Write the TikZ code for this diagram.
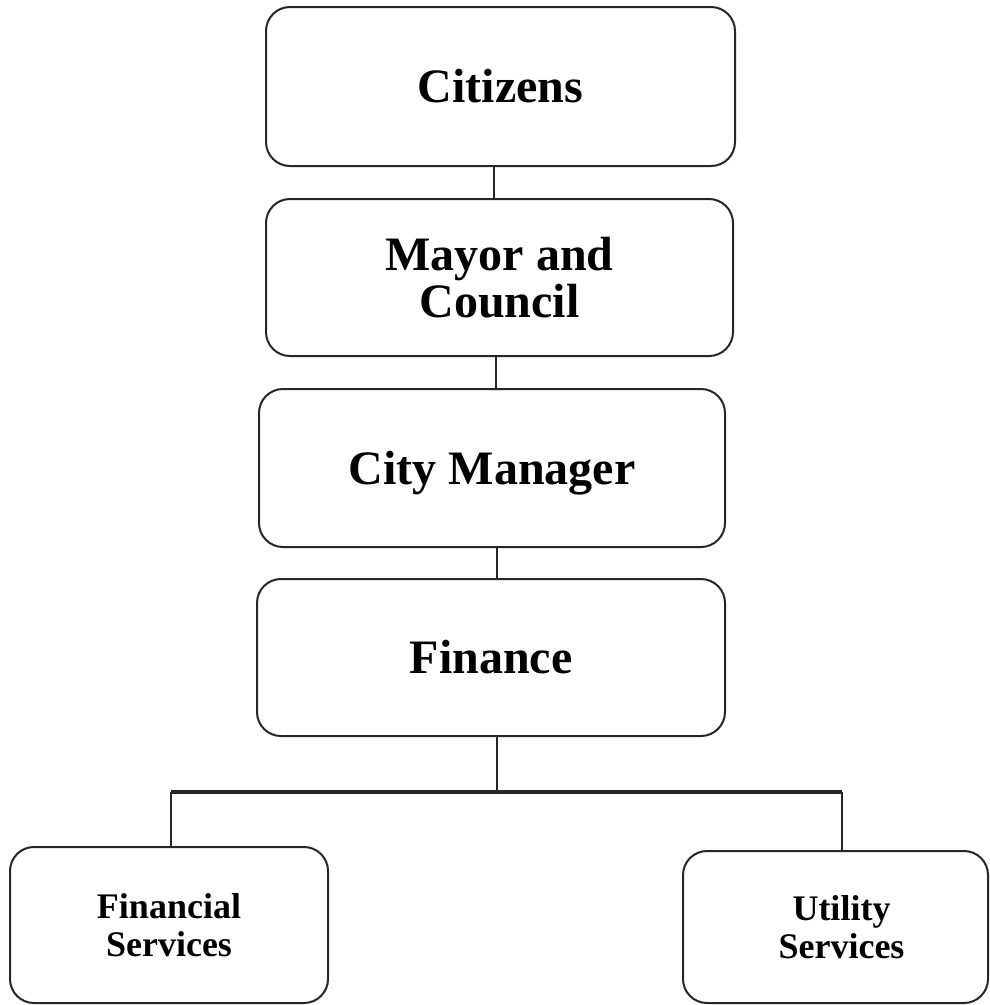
\documentclass[tikz,border=0pt]{standalone}
\usepackage{fontspec}
\setmainfont{Liberation Serif}
\begin{document}
\begin{tikzpicture}[x=1pt,y=-1pt,
  box/.style={draw=black!85, line width=2pt, rounded corners=24pt, inner sep=0pt, align=center,
    font=\bfseries\fontsize{48}{47}\selectfont},
  smallbox/.style={box, font=\bfseries\fontsize{36}{38}\selectfont},
  conn/.style={draw=black!85, line width=2.6pt},
  hconn/.style={draw=black!85, line width=3.2pt}]
\useasboundingbox (0,0) rectangle (990,1005);
\node[box, minimum width=469pt, minimum height=159pt] (cit) at (500.5,86.5) {Citizens};
\node[box, minimum width=467pt, minimum height=157pt] (may) at (499.5,277.5) {Mayor and\\Council};
\node[box, minimum width=466pt, minimum height=158pt, text depth=0pt] (cm) at (492,468) {City Manager};
\node[box, minimum width=468pt, minimum height=157pt] (fin) at (491,657.5) {Finance};
\node[smallbox, minimum width=318pt, minimum height=156pt] (fs) at (169,925) {Financial\\Services};
\node[smallbox, minimum width=305pt, minimum height=152pt] (us) at (835.5,927) {\hspace*{12pt}Utility\\\hspace*{12pt}Services};
\coordinate (split) at (497,792);
\draw[conn] (494,0 |- cit.south) -- (494,0 |- may.north);
\draw[conn] (496,0 |- may.south) -- (496,0 |- cm.north);
\draw[conn] (497,0 |- cm.south) -- (497,0 |- fin.north);
\draw[conn] (497,0 |- fin.south) -- (split);
\draw[hconn] (171,0 |- split) -- (842,0 |- split);
\draw[conn] (171,0 |- split) -- (171,0 |- fs.north);
\draw[conn] (842,0 |- split) -- (842,0 |- us.north);
\end{tikzpicture}
\end{document}
